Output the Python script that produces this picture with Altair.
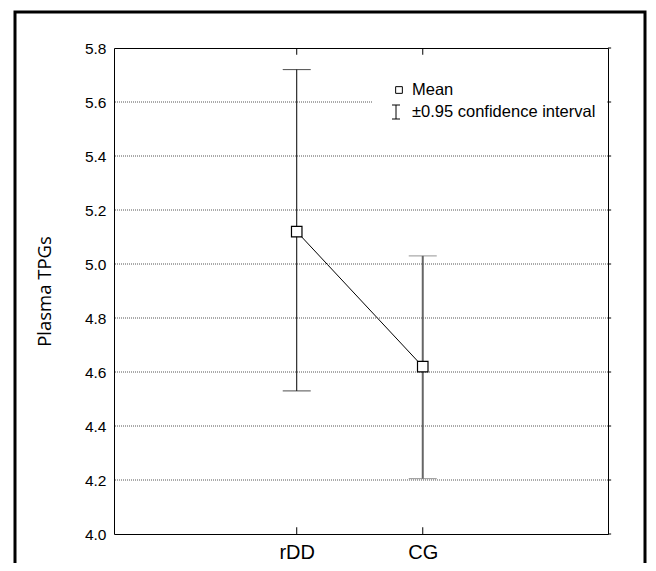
import altair as alt
import pandas as pd

groups = ["rDD", "CG"]
xpos = [1, 2]
means = [5.12, 4.62]
lower = [4.53, 4.205]
upper = [5.72, 5.03]
bar_colors = ["#000000", "#666666"]
bar_widths = [1, 2]
y_ticks = [4.0, 4.2, 4.4, 4.6, 4.8, 5.0, 5.2, 5.4, 5.6, 5.8]
grid_vals = [4.2, 4.4, 4.6, 4.8, 5.0, 5.2, 5.4, 5.6]
legend_labels = ["Mean", "±0.95 confidence interval"]

W, H = 494, 486
FONT = "Liberation Sans"
X_MIN, X_MAX = -0.45, 3.47

df = pd.DataFrame({"p": xpos, "g": groups, "mean": means, "lo": lower, "hi": upper,
                   "col": bar_colors, "sw": bar_widths})

xsc = alt.Scale(domain=[X_MIN, X_MAX], nice=False, zero=False)
xaxis = alt.Axis(title=None, labelFontSize=20, labelFont=FONT, labelColor="black",
                 values=xpos, labelExpr="datum.value == 1 ? 'rDD' : 'CG'",
                 labelAngle=0, ticks=False, domain=False, grid=False, labelPadding=8)
ysc = alt.Scale(domain=[4.0, 5.8], nice=False, zero=False)
yaxis = alt.Axis(title="Plasma TPGs", titleFontSize=18.5, titleFont="Open Sans",
                 titleFontWeight="normal", titleColor="black", titlePadding=30,
                 labelFontSize=15.5, labelFont=FONT, labelColor="black",
                 values=y_ticks, format=".1f", ticks=False, domain=False,
                 grid=False, labelPadding=8)

def X(f):
    return alt.X(f, scale=xsc, axis=xaxis)

def Y(f):
    return alt.Y(f, scale=ysc, axis=yaxis)

base = alt.Chart(df)
line = base.mark_line(color="black", strokeWidth=1).encode(x=X("p:Q"), y=Y("mean:Q"))

grid = alt.Chart(pd.DataFrame({"v": grid_vals})).mark_rule(
    color="#555555", strokeDash=[1, 1], strokeWidth=1
).encode(y=Y("v:Q"))

# inward ticks top/bottom at categories
tick_df = pd.DataFrame({"p": xpos * 2, "a": [4.0, 4.0, 5.8, 5.8], "b": [4.025, 4.025, 5.775, 5.775]})
xticks = alt.Chart(tick_df).mark_rule(color="black").encode(
    x=X("p:Q"), y=Y("a:Q"), y2="b:Q")

# outward ticks on right side
rt_df = pd.DataFrame({"v": y_ticks, "a": [X_MAX] * len(y_ticks), "b": [X_MAX + 0.025] * len(y_ticks)})
rticks = alt.Chart(rt_df).mark_rule(color="black", clip=False).encode(
    x=X("a:Q"), x2="b:Q", y=Y("v:Q"))

bars = base.mark_rule().encode(
    x=X("p:Q"), y=Y("lo:Q"), y2="hi:Q",
    color=alt.Color("col:N", scale=None), strokeWidth=alt.StrokeWidth("sw:Q", scale=None))
cap_lo = base.mark_tick(size=28, thickness=1, orient="horizontal").encode(
    x=X("p:Q"), y=Y("lo:Q"), color=alt.Color("col:N", scale=None),
    strokeWidth=alt.StrokeWidth("sw:Q", scale=None))
cap_hi = base.mark_tick(size=28, thickness=1, orient="horizontal").encode(
    x=X("p:Q"), y=Y("hi:Q"), color=alt.Color("col:N", scale=None))
pts = base.mark_point(shape="square", size=110, filled=True, fill="white",
                      stroke="black", strokeWidth=1.2, opacity=1).encode(x=X("p:Q"), y=Y("mean:Q"))

one = pd.DataFrame({"k": [0]})
leg_bg = alt.Chart(one).mark_rect(color="white").encode(
    x=alt.value(258), x2=alt.value(W - 1), y=alt.value(27), y2=alt.value(77))
leg_sq = alt.Chart(one).mark_point(shape="square", size=45, filled=True, fill="white",
                                    stroke="black", strokeWidth=1, opacity=1).encode(
    x=alt.value(285), y=alt.value(42))
leg_t1 = alt.Chart(pd.DataFrame({"t": [legend_labels[0]]})).mark_text(
    align="left", baseline="middle", fontSize=16.5, font=FONT, color="black").encode(
    x=alt.value(298), y=alt.value(42), text="t:N")
leg_v = alt.Chart(one).mark_rule(color="black").encode(
    x=alt.value(282), y=alt.value(57), y2=alt.value(71))
leg_c1 = alt.Chart(one).mark_rule(color="black").encode(
    x=alt.value(278), x2=alt.value(286), y=alt.value(57))
leg_c2 = alt.Chart(one).mark_rule(color="black").encode(
    x=alt.value(278), x2=alt.value(286), y=alt.value(71))
leg_t2 = alt.Chart(pd.DataFrame({"t": [legend_labels[1]]})).mark_text(
    align="left", baseline="middle", fontSize=16.5, font=FONT, color="black").encode(
    x=alt.value(298), y=alt.value(64), text="t:N")

frame = alt.Chart(one).mark_rect(fill=None, stroke="black", strokeWidth=3, clip=False).encode(
    x=alt.value(-99), x2=alt.value(531), y=alt.value(-36), y2=alt.value(560))

chart = alt.layer(
    line, grid, bars, cap_lo, cap_hi, pts, xticks, rticks,
    leg_bg, leg_sq, leg_t1, leg_v, leg_c1, leg_c2, leg_t2, frame
).properties(
    width=W, height=H,
    autosize=alt.AutoSizeParams(type="none"),
    padding={"left": 106, "top": 40, "right": 40, "bottom": 29},
    background="white"
).configure_view(stroke="black", strokeWidth=1)

chart.save("out.html", embed_options={"renderer": "svg", "actions": False})
